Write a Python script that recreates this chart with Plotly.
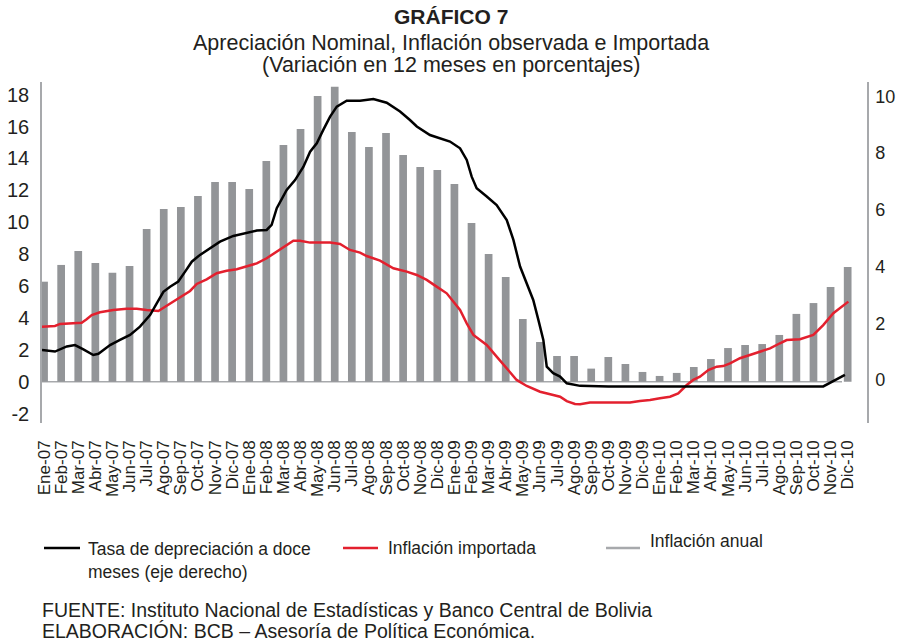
import plotly.graph_objects as go

# ---------------- data ----------------
months = ["Ene", "Feb", "Mar", "Abr", "May", "Jun", "Jul", "Ago", "Sep", "Oct", "Nov", "Dic"]
years = ["07", "08", "09", "10"]
tick_labels = [f"{m}-{y}" for y in years for m in months]

# Inflación anual (left axis, %)
inflacion_anual = [
    6.27, 7.32, 8.19, 7.44, 6.83, 7.25, 9.57, 10.83, 10.95, 11.64, 12.52, 12.52,
    12.08, 13.83, 14.84, 15.84, 17.91, 18.50, 15.66, 14.72, 15.60, 14.21, 13.46, 13.27,
    12.39, 9.95, 8.00, 6.56, 3.93, 2.49, 1.61, 1.61, 0.82, 1.55, 1.11, 0.61,
    0.36, 0.55, 0.92, 1.42, 2.11, 2.30, 2.36, 2.93, 4.25, 4.93, 5.94, 7.19,
]

# Tasa de depreciación a doce meses (right axis) - time in months since Ene-07
dep_t = [-0.12, 0.64, 1.33, 1.81, 2.30, 2.88, 3.18, 3.86, 4.44, 5.03, 5.61, 6.20, 6.59, 6.98,
         7.37, 7.85, 8.25, 8.64, 9.12, 9.71, 10.29, 11.07, 11.85, 12.44, 13.02, 13.31, 13.61,
         14.00, 14.19, 14.68, 15.17, 15.56, 15.95, 16.33, 16.73, 17.12, 17.70, 18.48, 19.26,
         20.04, 20.82, 21.40, 21.80, 22.57, 23.16, 23.74, 24.33, 24.72, 25.01, 25.30, 25.89,
         26.47, 27.06, 27.45, 27.84, 28.23, 28.61, 28.91, 29.20, 29.40, 29.78, 30.18, 30.57,
         31.35, 33.00, 36.00, 40.00, 44.00, 45.57, 46.84]
dep_v = [1.06, 1.00, 1.18, 1.23, 1.08, 0.88, 0.92, 1.23, 1.41, 1.59, 1.88, 2.29, 2.70, 3.11,
         3.29, 3.47, 3.82, 4.17, 4.41, 4.64, 4.88, 5.08, 5.20, 5.27, 5.29, 5.47, 6.06,
         6.53, 6.70, 7.05, 7.52, 8.05, 8.35, 8.82, 9.29, 9.64, 9.85, 9.85, 9.91,
         9.78, 9.47, 9.17, 8.94, 8.64, 8.53, 8.41, 8.17, 7.76, 7.17, 6.76, 6.47,
         6.17, 5.64, 4.94, 4.00, 3.41, 2.82, 2.12, 1.41, 0.47, 0.24, 0.12, -0.12,
         -0.21, -0.23, -0.23, -0.23, -0.23, -0.23, 0.18]

# Inflación importada (left axis)
imp_t = [-0.12, 0.64, 0.94, 1.52, 2.20, 2.49, 2.79, 3.27, 4.05, 4.83, 5.42, 6.00, 6.69, 7.08,
         7.56, 8.05, 8.54, 8.93, 9.51, 10.10, 10.68, 11.27, 11.85, 12.44, 13.02, 13.61, 14.19,
         14.58, 14.97, 15.56, 16.73, 17.31, 17.89, 18.48, 18.87, 19.65, 20.43, 21.21, 21.80,
         22.38, 22.96, 23.55, 24.33, 24.72, 25.11, 25.89, 26.47, 27.06, 27.64, 28.23, 29.01,
         29.78, 30.18, 30.57, 31.05, 31.35, 31.93, 32.71, 34.27, 34.85, 35.44, 36.02, 36.61,
         37.09, 37.59, 37.97, 38.36, 38.85, 39.34, 39.72, 40.12, 40.70, 41.29, 41.87, 42.46,
         43.04, 43.43, 44.21, 44.99, 45.57, 46.16, 47.04]
imp_v = [3.45, 3.49, 3.62, 3.66, 3.70, 3.91, 4.18, 4.35, 4.50, 4.58, 4.58, 4.50, 4.43, 4.70,
         5.02, 5.33, 5.69, 6.13, 6.42, 6.80, 6.96, 7.05, 7.21, 7.42, 7.74, 8.15, 8.53,
         8.84, 8.84, 8.72, 8.72, 8.63, 8.26, 8.09, 7.88, 7.59, 7.11, 6.90, 6.69,
         6.38, 5.96, 5.54, 4.50, 3.66, 2.93, 2.30, 1.57, 0.84, 0.11, -0.27, -0.63,
         -0.83, -0.94, -1.22, -1.40, -1.42, -1.31, -1.31, -1.31, -1.21, -1.15, -1.04, -0.94,
         -0.73, -0.21, 0.11, 0.31, 0.73, 0.94, 0.98, 1.15, 1.47, 1.67, 1.88, 2.09,
         2.41, 2.61, 2.66, 2.93, 3.55, 4.29, 5.02]

left_ticks = [-2, 0, 2, 4, 6, 8, 10, 12, 14, 16, 18]
left_tick_text = ["-2", "0", "2", "4", "6", "8", "10", "12", "14", "16", "18"]
right_ticks = [0, 2, 4, 6, 8, 10]

# ---------------- style ----------------
FONT = "Liberation Sans, Arial, Helvetica, sans-serif"
TXT = "#231F20"
BAR_C = "#939598"
RED = "#E3202E"
AXIS_C = "#A7A9AC"

fig = go.Figure()
fig.add_trace(go.Bar(x=list(range(len(tick_labels))), y=inflacion_anual, width=0.45,
                     marker=dict(color=BAR_C, line=dict(width=0)), name="Inflación anual"))
fig.add_trace(go.Scatter(x=imp_t, y=imp_v, mode="lines", line=dict(color=RED, width=2.5),
                         name="Inflación importada"))
fig.add_trace(go.Scatter(x=dep_t, y=dep_v, mode="lines", line=dict(color="#000000", width=2.5),
                         name="Tasa de depreciación a doce meses (eje derecho)", yaxis="y2"))

fig.update_layout(
    width=898, height=643,
    margin=dict(l=42, r=31, t=82, b=220),
    paper_bgcolor="white", plot_bgcolor="white",
    showlegend=False,
    font=dict(family=FONT, color=TXT, size=17),
    xaxis=dict(range=[-0.12, 48.13], tickmode="array", automargin=False,
               tickvals=list(range(len(tick_labels))), ticktext=tick_labels,
               tickangle=-90, showgrid=False, zeroline=False, showline=False,
               ticks="", tickfont=dict(size=17, color=TXT), ticklabelstandoff=13),
    yaxis=dict(range=[-2.59, 18.79], tickmode="array", tickvals=left_ticks,
               ticktext=left_tick_text, automargin=False,
               showgrid=False, zeroline=False,
               showline=True, linecolor=AXIS_C, linewidth=1.5, ticks="",
               tickfont=dict(size=20, color=TXT), ticklabelstandoff=7),
    yaxis2=dict(range=[-1.52, 10.51], tickmode="array", tickvals=right_ticks,
                overlaying="y", side="right", showgrid=False, zeroline=False,
                automargin=False,
                showline=True, linecolor=AXIS_C, linewidth=1.5, ticks="",
                tickfont=dict(size=18, color=TXT), ticklabelstandoff=3),
)

W, H, L, B = 825.0, 341.0, 42.0, 423.0
def px(xp):
    return (xp - L) / W
def py(yp):
    return (B - yp) / H

shapes = [dict(type="line", xref="paper", yref="y", x0=0, x1=px(842), y0=0, y1=0,
               line=dict(color=AXIS_C, width=1.5), layer="below")]

ann = []
ann.append(dict(text="<b>GRÁFICO 7</b>", x=px(451), y=py(17), font=dict(size=21)))
ann.append(dict(text="Apreciación Nominal, Inflación observada e Importada", x=px(451), y=py(43), font=dict(size=21.5)))
ann.append(dict(text="(Variación en 12 meses en porcentajes)", x=px(451), y=py(65), font=dict(size=21.5)))
for a in ann:
    a.update(xref="paper", yref="paper", showarrow=False, xanchor="center", yanchor="middle")

legend_items = [
    ("Tasa de depreciación a doce<br>meses (eje derecho)", "#000000", 44, 80, 548, 86, 537, "top"),
    ("Inflación importada", RED, 343, 378, 548, 386, 548, "middle"),
    ("Inflación anual", AXIS_C, 606, 640, 548, 648, 541, "middle"),
]
for text, col, x0, x1, ly, tx, ty, ya in legend_items:
    shapes.append(dict(type="line", xref="paper", yref="paper", x0=px(x0), x1=px(x1),
                       y0=py(ly), y1=py(ly), line=dict(color=col, width=2.5)))
    ann.append(dict(text=text, xref="paper", yref="paper", x=px(tx), y=py(ty),
                    xanchor="left", yanchor=ya, align="left", showarrow=False,
                    font=dict(size=17.5)))

ann.append(dict(text="FUENTE: Instituto Nacional de Estadísticas y Banco Central de Bolivia",
                xref="paper", yref="paper", x=px(40), y=py(610), xanchor="left", yanchor="middle",
                showarrow=False, font=dict(size=19.5)))
ann.append(dict(text="ELABORACIÓN: BCB – Asesoría de Política Económica.",
                xref="paper", yref="paper", x=px(40), y=py(631), xanchor="left", yanchor="middle",
                showarrow=False, font=dict(size=19.5)))

fig.update_layout(annotations=ann, shapes=shapes)
fig.write_html("out.html", config={"displayModeBar": False},
               post_script="document.body.style.margin='0';document.body.style.overflow='hidden';")
